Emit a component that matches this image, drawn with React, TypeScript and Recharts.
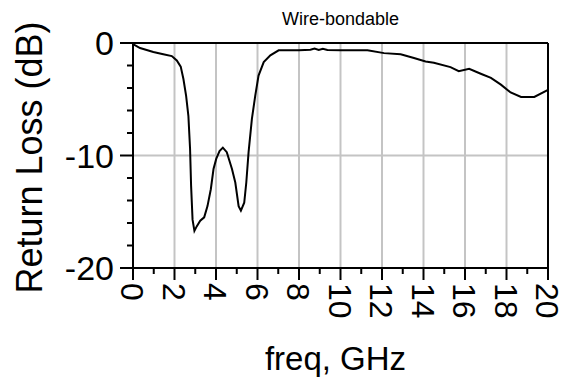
import React from 'react';
import { LineChart, Line, XAxis, YAxis, ReferenceLine } from 'recharts';

const freqGHz = [0.0, 0.34, 0.98, 1.46, 1.87, 2.11, 2.3, 2.43, 2.56, 2.67, 2.75, 2.8, 2.87, 2.96, 3.07, 3.24, 3.43, 3.59, 3.75, 3.88, 4.01, 4.17, 4.33, 4.52, 4.77, 4.93, 5.09, 5.2, 5.36, 5.46, 5.57, 5.73, 5.89, 6.05, 6.3, 6.62, 7.02, 8.0, 8.55, 8.75, 8.95, 9.15, 9.37, 10.0, 11.3, 12.1, 12.9, 13.54, 14.1, 14.5, 15.3, 15.7, 16.2, 16.76, 17.25, 17.73, 18.2, 18.7, 19.34, 20.0];
const returnLossDb = [-0.1, -0.45, -0.8, -1.0, -1.16, -1.55, -2.1, -3.2, -4.7, -6.5, -9.4, -12.7, -15.7, -16.7, -16.3, -15.8, -15.5, -14.5, -13.0, -11.2, -10.3, -9.6, -9.3, -9.7, -11.2, -12.4, -14.5, -14.9, -14.2, -12.4, -9.7, -6.75, -4.7, -2.9, -1.7, -1.1, -0.65, -0.65, -0.6, -0.5, -0.62, -0.52, -0.62, -0.65, -0.65, -0.9, -1.0, -1.34, -1.65, -1.75, -2.14, -2.5, -2.3, -2.73, -3.1, -3.7, -4.4, -4.8, -4.8, -4.16];

const xTicks = [0, 1, 2, 3, 4, 5, 6, 7, 8, 9, 10, 11, 12, 13, 14, 15, 16, 17, 18, 19, 20];
const xGrid = [2, 4, 6, 8, 10, 12, 14, 16, 18];
const yTicks = [-20, -18, -16, -14, -12, -10, -8, -6, -4, -2, 0];
const yGrid = [-10];

const title = 'Wire-bondable';
const xLabel = 'freq, GHz';
const yLabel = 'Return Loss (dB)';

const data = freqGHz.map((f, i) => ({ f, v: returnLossDb[i] }));

const FONT = '"Liberation Sans", Arial, sans-serif';

const XTick = (props: any) => {
  const { x, y, payload } = props;
  const v = payload.value;
  const major = v % 2 === 0;
  return (
    <g>
      <line x1={x} y1={y} x2={x} y2={y + (major ? 12 : 6)} stroke="#000" strokeWidth={2} />
      {major && (
        <text
          transform={`translate(${x},${y + 15}) rotate(90)`}
          dy="0.36em"
          textAnchor="start"
          fontSize={32}
          fontFamily={FONT}
          fill="#000"
        >
          {v}
        </text>
      )}
    </g>
  );
};

const YTick = (props: any) => {
  const { x, y, payload } = props;
  const v = payload.value;
  const major = v % 10 === 0;
  return (
    <g>
      <line x1={x - (major ? 13 : 6)} y1={y} x2={x} y2={y} stroke="#000" strokeWidth={2} />
      {major && (
        <text x={x - 19} y={y} dy="0.355em" textAnchor="end" fontSize={34} fontFamily={FONT} fill="#000">
          {v}
        </text>
      )}
    </g>
  );
};

const XLabel = (props: any) => {
  const vb = props.viewBox;
  return (
    <text x={vb.x + vb.width / 2 - 5} y={vb.y + 102} textAnchor="middle" fontSize={33} fontFamily={FONT} fill="#000">
      {xLabel}
    </text>
  );
};

const YLabel = (props: any) => {
  const vb = props.viewBox;
  const cx = 42;
  const cy = vb.y + vb.height / 2 + 2;
  return (
    <text transform={`translate(${cx},${cy}) rotate(-90)`} textAnchor="middle" fontSize={36} fontFamily={FONT} fill="#000">
      {yLabel}
    </text>
  );
};

export default function App() {
  return (
    <div style={{ position: 'fixed', left: 0, top: 0, width: 562, height: 379, background: '#fff' }}>
      <LineChart width={562} height={379} data={data} margin={{ top: 43, right: 14, left: 0, bottom: 0 }}>
        {xGrid.map((g) => (
          <ReferenceLine key={'xg' + g} x={g} stroke="#c4c4c4" strokeWidth={2} />
        ))}
        {yGrid.map((g) => (
          <ReferenceLine key={'yg' + g} y={g} stroke="#c4c4c4" strokeWidth={2} />
        ))}
        <XAxis
          dataKey="f"
          type="number"
          domain={[0, 20]}
          ticks={xTicks}
          interval={0}
          height={111}
          tickSize={0}
          tickMargin={0}
          tickLine={false}
          axisLine={{ stroke: '#000', strokeWidth: 2 }}
          tick={<XTick />}
          label={<XLabel />}
          allowDataOverflow
        />
        <YAxis
          type="number"
          domain={[-20, 0]}
          ticks={yTicks}
          interval={0}
          width={133}
          tickSize={0}
          tickMargin={0}
          tickLine={false}
          axisLine={{ stroke: '#000', strokeWidth: 2 }}
          tick={<YTick />}
          label={<YLabel />}
          allowDataOverflow
        />
        <ReferenceLine
          y={0}
          stroke="#000"
          strokeWidth={2}
          label={{ value: title, position: 'top', offset: 18, fill: '#000', fontSize: 18, fontFamily: FONT }}
        />
        <ReferenceLine x={20} stroke="#000" strokeWidth={2} />
        <Line
          type="linear"
          dataKey="v"
          stroke="#000"
          strokeWidth={2}
          dot={false}
          isAnimationActive={false}
        />
      </LineChart>
    </div>
  );
}
